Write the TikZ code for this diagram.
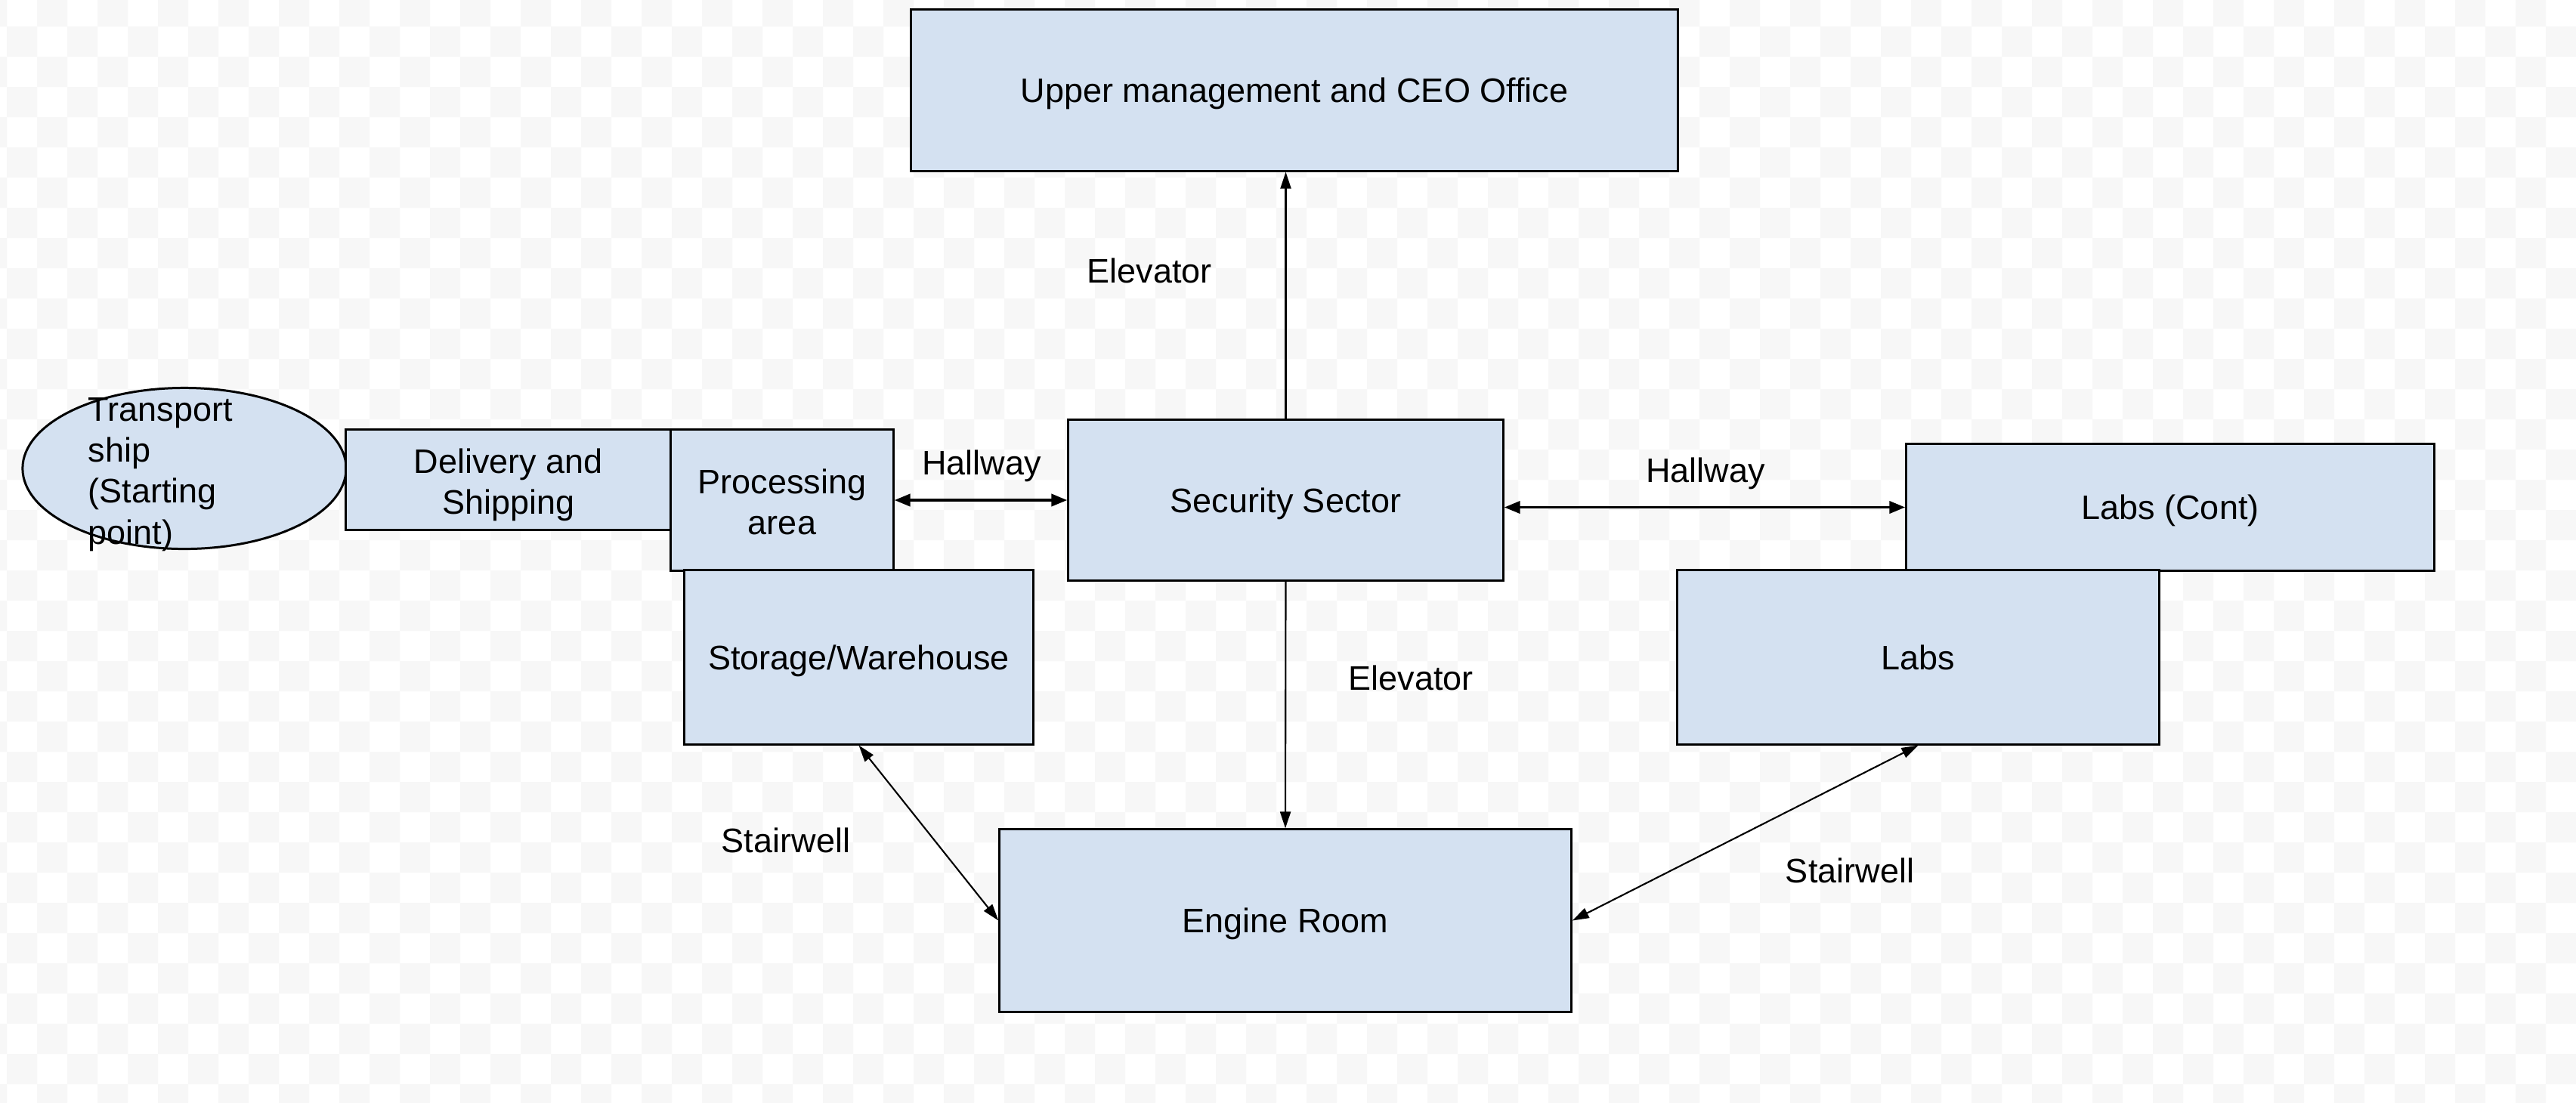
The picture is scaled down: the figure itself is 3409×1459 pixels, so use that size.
\documentclass[tikz,border=0pt]{standalone}
\usepackage{fontspec}
\setmainfont{Liberation Sans}
\usepackage{tikz}
\usetikzlibrary{shapes.geometric,arrows.meta,positioning}
\definecolor{roomB}{HTML}{D4E1F1}
\definecolor{chk}{HTML}{F7F7F7}

\begin{document}
\begin{tikzpicture}[
  x=0.01cm, y=-0.01cm,
  font=\fontsize{12.8}{15.4}\selectfont,
  every node/.style={align=center},
  cell/.style={draw=black,line width=0.85pt,fill=roomB,inner sep=0pt},
  room/.style={cell,text depth=0pt},
  dock/.style={ellipse,draw=black,line width=0.85pt,fill=roomB,inner sep=0pt},
  hall/.style={line width=1.1pt,
    {Triangle[length=0.21cm,width=0.16cm]}-{Triangle[length=0.21cm,width=0.16cm]}},
  lift/.style={line width=0.6pt,-{Triangle[length=0.22cm,width=0.14cm]}},
  stair/.style={line width=0.6pt,
    {Triangle[length=0.22cm,width=0.14cm]}-{Triangle[length=0.22cm,width=0.14cm]}}
]
% Background
\begin{scope}
  \clip (0,0) rectangle (3409,1459);
  \fill[white] (0,0) rectangle (3409,1459);
  \fill[chk] \foreach \i in {0,2,...,86}{\foreach \j in {0,2,...,38}{
    (-31+40*\i,-5+40*\j) rectangle ++(40,40)
    (9+40*\i,35+40*\j) rectangle ++(40,40)}};
\end{scope}
\useasboundingbox (0,0) rectangle (3409,1459);

% Rooms
\node[dock,minimum width=4.28cm,minimum height=2.13cm] (ship) at (244,620) {};
\node[anchor=west,align=left,inner sep=0pt] (shiptxt) at (116,628)
  {Transport\\ship\\(Starting\\point)};
\node[cell,minimum width=4.30cm,minimum height=1.32cm] (deliv) at (673,635)
  {\rule{0pt}{13pt}Delivery and\\Shipping};
\node[cell,minimum width=2.94cm,minimum height=1.86cm] (proc) at (1035,662)
  {\rule{0pt}{10.5pt}Processing\\area};
\node[room,minimum width=4.61cm,minimum height=2.30cm] (store) at (1136.5,870)
  {Storage/Warehouse};
\node[room,minimum width=5.75cm,minimum height=2.12cm] (sec) at (1701.5,662)
  {Security Sector};
\node[room,minimum width=10.14cm,minimum height=2.13cm] (ceo) at (1713,119.5)
  {Upper management and CEO Office};
\node[room,minimum width=6.98cm,minimum height=1.67cm] (labsc) at (2872,671.5)
  {Labs (Cont)};
\node[room,minimum width=6.37cm,minimum height=2.30cm] (labs) at (2538.5,870)
  {Labs};
\node[room,minimum width=7.56cm,minimum height=2.41cm] (eng) at (1701,1218.5)
  {Engine Room};

% Connections
\draw[hall] (proc.east) -- (sec.west);
\draw[hall] (sec.east |- labsc.west) -- (labsc.west);
\draw[lift] (sec.north) -- (sec.north |- ceo.south);
\draw[lift] (sec.south) -- (eng.north);
\draw[stair] (store.south) -- (eng.west);
\draw[stair] (labs.south) -- (eng.east);

% Labels
\node (elevUp) at (1521,358) {Elevator};
\node (elevDn) at (1867,897) {Elevator};
\node (hallL) at (1299,617) {Hallway};
\node (hallR) at (2257,627) {Hallway};
\node (stairL) at (1040,1112) {Stairwell};
\node (stairR) at (2448,1152) {Stairwell};
\end{tikzpicture}
\end{document}
